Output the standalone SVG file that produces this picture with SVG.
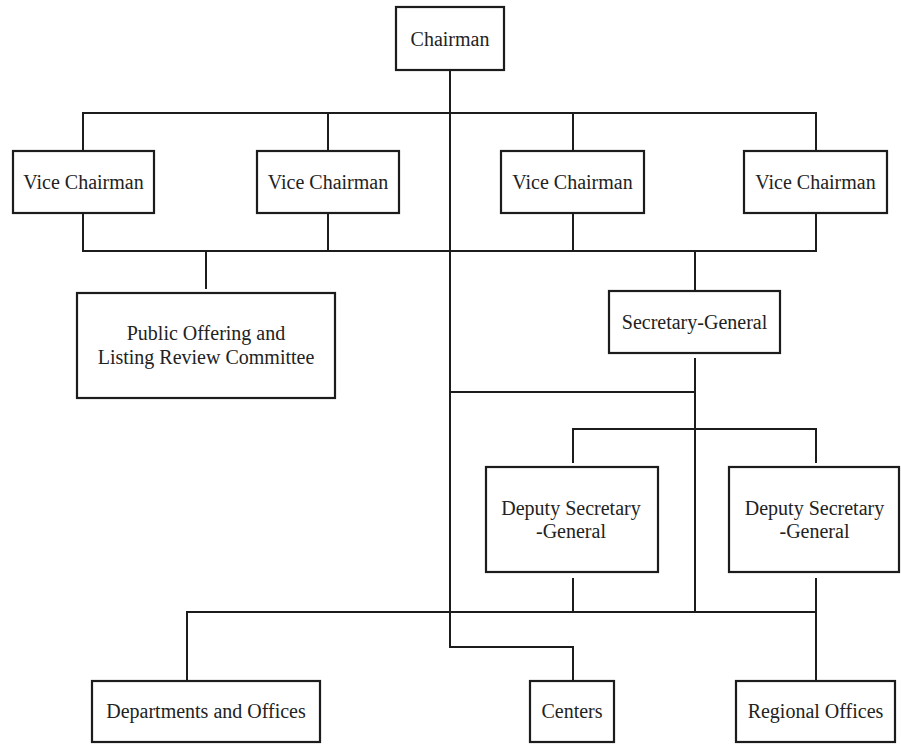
<svg xmlns="http://www.w3.org/2000/svg" width="901" height="744" viewBox="0 0 901 744">
  <style>
    .box { fill: #ffffff; stroke: #1c1c1c; stroke-width: 2.2; }
    .lbl { font-family: "Liberation Serif", "Times New Roman", serif; font-size: 20px; fill: #222222; text-anchor: middle; }
    .wire { fill: none; stroke: #1c1c1c; stroke-width: 2; }
  </style>
  <rect width="901" height="744" fill="#ffffff"/>

  <!-- connectors -->
  <g id="connectors" class="wire">
    <!-- main spine from the Chairman -->
    <path d="M450 70 V647 H573 V681"/>
    <!-- vice chairmen: upper and lower buses -->
    <path d="M83 151 V113 H816 V151"/>
    <path d="M328 113 V151 M573 113 V151"/>
    <path d="M83 213 V251 H816 V213"/>
    <path d="M328 213 V251 M573 213 V251"/>
    <!-- committee and secretary-general -->
    <path d="M206 251 V289"/>
    <path d="M695 251 V291"/>
    <path d="M695 358 V612"/>
    <path d="M450 392 H695"/>
    <!-- deputies -->
    <path d="M573 463 V429 H816 V463"/>
    <path d="M573 578 V612 M816 578 V681"/>
    <!-- bottom bus -->
    <path d="M187 681 V612 H816"/>
  </g>

  <g id="chairman">
    <rect class="box" x="396" y="7" width="108" height="63"/>
    <text class="lbl" x="450" y="46">Chairman</text>
  </g>

  <g id="vice-chairman-1">
    <rect class="box" x="13" y="151" width="141" height="62"/>
    <text class="lbl" x="83.5" y="189">Vice Chairman</text>
  </g>
  <g id="vice-chairman-2">
    <rect class="box" x="257" y="151" width="142" height="62"/>
    <text class="lbl" x="328" y="189">Vice Chairman</text>
  </g>
  <g id="vice-chairman-3">
    <rect class="box" x="501" y="151" width="143" height="62"/>
    <text class="lbl" x="572.5" y="189">Vice Chairman</text>
  </g>
  <g id="vice-chairman-4">
    <rect class="box" x="744" y="151" width="143" height="62"/>
    <text class="lbl" x="815.5" y="189">Vice Chairman</text>
  </g>

  <g id="review-committee">
    <rect class="box" x="77" y="293" width="258" height="105"/>
    <text class="lbl" x="206" y="340">Public Offering and</text>
    <text class="lbl" x="206" y="364">Listing Review Committee</text>
  </g>

  <g id="secretary-general">
    <rect class="box" x="609" y="291" width="171" height="62"/>
    <text class="lbl" x="694.5" y="329">Secretary-General</text>
  </g>

  <g id="deputy-1">
    <rect class="box" x="486" y="467" width="172" height="105"/>
    <text class="lbl" x="571" y="515">Deputy Secretary</text>
    <text class="lbl" x="571" y="538">-General</text>
  </g>
  <g id="deputy-2">
    <rect class="box" x="729" y="467" width="170" height="105"/>
    <text class="lbl" x="814.5" y="515">Deputy Secretary</text>
    <text class="lbl" x="814.5" y="538">-General</text>
  </g>

  <g id="departments">
    <rect class="box" x="92" y="681" width="228" height="61"/>
    <text class="lbl" x="206" y="718">Departments and Offices</text>
  </g>
  <g id="centers">
    <rect class="box" x="530" y="681" width="84" height="61"/>
    <text class="lbl" x="572" y="718">Centers</text>
  </g>
  <g id="regional-offices">
    <rect class="box" x="736" y="681" width="159" height="61"/>
    <text class="lbl" x="815.5" y="718">Regional Offices</text>
  </g>
</svg>
